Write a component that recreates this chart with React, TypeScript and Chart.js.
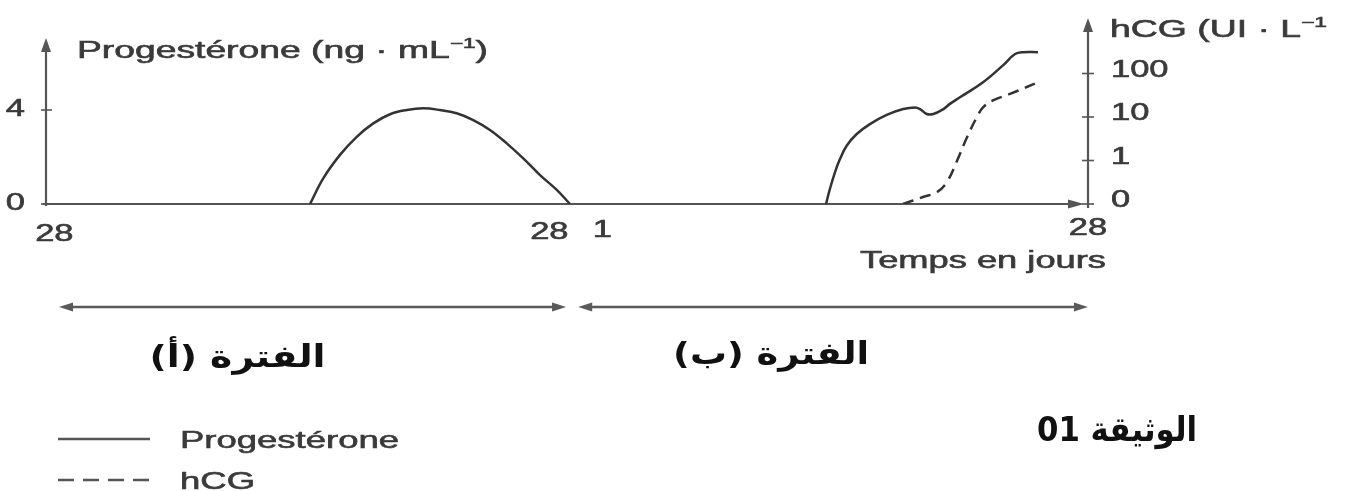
import React, { useEffect, useRef } from 'react';
import { Chart, registerables } from 'chart.js';

Chart.register(...registerables);

// ---------- DATA ----------
// x is a continuous day index: 0..28 = period (A), 28..56 = period (B)
const progDaysA = [14.19, 14.9, 15.8, 16.7, 17.59, 18.49, 19.39, 20.28, 21.17, 22.07, 22.96, 23.86, 24.76, 25.65, 26.55, 27.45, 28.16];
const progValuesA = [0, 1.09, 2.09, 2.86, 3.43, 3.82, 4.0, 4.07, 4.0, 3.86, 3.57, 3.15, 2.58, 1.94, 1.23, 0.6, 0];
const progDaysB = [41.92, 42.13, 42.4, 42.67, 43.03, 43.57, 44.28, 45.18, 46.07, 46.7, 46.97, 47.33, 47.69, 48.23, 48.58, 49.12, 50.36, 51.43, 52.08, 52.51, 53.31];
const progValuesB = [0, 0.64, 1.35, 1.91, 2.48, 2.98, 3.4, 3.79, 4.04, 4.11, 4.04, 3.83, 3.83, 4.04, 4.26, 4.54, 5.18, 5.9, 6.38, 6.46, 6.46];
const hcgDays = [46.06, 47.13, 47.87, 48.41, 48.94, 49.48, 50.02, 50.36, 50.89, 51.81, 52.71, 53.31];
const hcgValues = [0, 0.16, 0.27, 0.5, 0.97, 3.3, 9.8, 16.6, 24, 34, 49, 63]; // UI·L-1

const xTickValues = [0.45, 27.05, 29.9, 56];
const xTickLabels = ['28', '28', '1', '28'];
const progTickValues = [0, 4];
const hcgTickValues = [0, 1, 10, 100];

const progLabel = 'Progestérone';
const hcgLabel = 'hCG';
const periodLabels = ['الفترة (أ)', 'الفترة (ب)'];
const docLabel = 'الوثيقة 01';
const xAxisTitle = 'Temps en jours';

// hCG axis: 0..1 linear, then one step per decade
const toLevel = (v: number) => (v <= 1 ? v : 1 + Math.log10(v));

// ---------- STYLE ----------
const LATIN = '"Liberation Sans", Arial, sans-serif';
const ARABIC = '"DejaVu Sans", sans-serif';
const TEXT = '#3a3a3a';
const AXIS = '#555555';
const CURVE = '#333333';

type Part = { t: string; size: number; dy?: number };

function drawRich(ctx: CanvasRenderingContext2D, parts: Part[], x: number, y: number, opts: { width?: number; sx?: number; align?: 'left' | 'center' | 'right'; baseline?: CanvasTextBaseline }) {
  ctx.save();
  const widths = parts.map((p) => {
    ctx.font = `${p.size}px ${LATIN}`;
    return ctx.measureText(p.t).width;
  });
  const natural = widths.reduce((a, b) => a + b, 0);
  const sx = opts.width ? opts.width / natural : opts.sx || 1;
  const w = natural * sx;
  const align = opts.align || 'left';
  const left = align === 'left' ? x : align === 'right' ? x - w : x - w / 2;
  ctx.translate(left, y);
  ctx.scale(sx, 1);
  ctx.fillStyle = TEXT;
  ctx.strokeStyle = TEXT;
  ctx.lineWidth = 0.6;
  ctx.textAlign = 'left';
  ctx.textBaseline = opts.baseline || 'alphabetic';
  let cx = 0;
  parts.forEach((p, i) => {
    ctx.font = `${p.size}px ${LATIN}`;
    ctx.fillText(p.t, cx, p.dy || 0);
    ctx.strokeText(p.t, cx, p.dy || 0);
    cx += widths[i];
  });
  ctx.restore();
}

function drawArabic(ctx: CanvasRenderingContext2D, text: string, cx: number, cy: number, size: number, width: number) {
  ctx.save();
  ctx.font = `bold ${size}px ${ARABIC}`;
  ctx.direction = 'rtl';
  const natural = ctx.measureText(text).width;
  ctx.translate(cx, cy);
  ctx.scale(width / natural, 1);
  ctx.fillStyle = '#111111';
  ctx.textAlign = 'center';
  ctx.textBaseline = 'middle';
  ctx.fillText(text, 0, 0);
  ctx.restore();
}

function arrowHead(ctx: CanvasRenderingContext2D, tx: number, ty: number, dir: 'up' | 'right' | 'left', len: number, half: number) {
  ctx.beginPath();
  ctx.moveTo(tx, ty);
  if (dir === 'up') {
    ctx.lineTo(tx - half, ty + len);
    ctx.lineTo(tx + half, ty + len);
  } else if (dir === 'right') {
    ctx.lineTo(tx - len, ty - half);
    ctx.lineTo(tx - len, ty + half);
  } else {
    ctx.lineTo(tx + len, ty - half);
    ctx.lineTo(tx + len, ty + half);
  }
  ctx.closePath();
  ctx.fill();
}

function line(ctx: CanvasRenderingContext2D, x1: number, y1: number, x2: number, y2: number) {
  ctx.beginPath();
  ctx.moveTo(x1, y1);
  ctx.lineTo(x2, y2);
  ctx.stroke();
}

const decor = {
  id: 'decor',
  beforeDatasetsDraw(chart: any) {
    const ctx: CanvasRenderingContext2D = chart.ctx;
    const xs = chart.scales.x;
    const ys = chart.scales.y;
    const y2 = chart.scales.y2;
    const x0 = xs.getPixelForValue(0);
    const x1 = xs.getPixelForValue(56);
    const base = ys.getPixelForValue(0);
    ctx.save();
    ctx.strokeStyle = AXIS;
    ctx.fillStyle = AXIS;
    ctx.lineWidth = 2.2;
    // left axis
    line(ctx, x0, base + 2, x0, 46);
    arrowHead(ctx, x0, 38, 'up', 14, 5);
    // right axis
    line(ctx, x1, base + 4, x1, 26);
    arrowHead(ctx, x1, 18, 'up', 14, 5);
    // x axis
    line(ctx, x0 - 3, base, x1 - 12, base);
    arrowHead(ctx, x1 - 4, base, 'right', 16, 4.5);
    // tick crosses
    ctx.lineWidth = 1.6;
    progTickValues.forEach((v) => {
      const py = ys.getPixelForValue(v);
      line(ctx, x0 - 5, py, x0 + 6, py);
    });
    hcgTickValues.forEach((v) => {
      const py = y2.getPixelForValue(toLevel(v));
      line(ctx, x1 - 6, py, x1 + 6, py);
    });
    ctx.restore();
  },
  afterDraw(chart: any) {
    const ctx: CanvasRenderingContext2D = chart.ctx;
    const xs = chart.scales.x;
    const ys = chart.scales.y;
    const y2 = chart.scales.y2;
    const x0 = xs.getPixelForValue(0);
    const x1 = xs.getPixelForValue(56);
    const base = ys.getPixelForValue(0);
    const SX = 1.5;

    // tick labels
    progTickValues.forEach((v) => {
      drawRich(ctx, [{ t: String(v), size: 23 }], x0 - 21, ys.getPixelForValue(v), { sx: SX, align: 'right', baseline: 'middle' });
    });
    hcgTickValues.forEach((v) => {
      drawRich(ctx, [{ t: String(v), size: 23 }], x1 + 23, y2.getPixelForValue(toLevel(v)) - 3, { sx: SX, align: 'left', baseline: 'middle' });
    });
    xTickValues.forEach((v, i) => {
      drawRich(ctx, [{ t: xTickLabels[i], size: 23 }], xs.getPixelForValue(v), base + 37 - i * 2, { sx: SX, align: 'center' });
    });

    // axis titles
    drawRich(
      ctx,
      [
        { t: 'Progestérone (ng · mL', size: 23 },
        { t: '−1', size: 14, dy: -10 },
        { t: ')', size: 23 },
      ],
      77, 58, { width: 411 }
    );
    drawRich(
      ctx,
      [
        { t: 'hCG (UI · L', size: 23 },
        { t: '−1', size: 14, dy: -10 },
      ],
      x1 + 22, 37, { width: 217 }
    );
    drawRich(ctx, [{ t: xAxisTitle, size: 23 }], x1 + 18, 268, { width: 246, align: 'right' });

    // period arrows
    ctx.save();
    ctx.strokeStyle = '#5a5a5a';
    ctx.fillStyle = '#5a5a5a';
    ctx.lineWidth = 2.5;
    const ay = 307;
    const segs = [
      [xs.getPixelForValue(0.7), xs.getPixelForValue(27.95)],
      [xs.getPixelForValue(28.6), x1],
    ];
    segs.forEach(([a, b]) => {
      line(ctx, a + 8, ay, b - 8, ay);
      arrowHead(ctx, a, ay, 'left', 14, 4.5);
      arrowHead(ctx, b, ay, 'right', 14, 4.5);
    });
    ctx.restore();

    // period labels
    drawArabic(ctx, periodLabels[0], (segs[0][0] + segs[0][1]) / 2 - 75, 359, 31, 176);
    drawArabic(ctx, periodLabels[1], (segs[1][0] + segs[1][1]) / 2 - 62, 356, 31, 196);
    drawArabic(ctx, docLabel, 1117, 432, 34, 160);

    // legend
    const ds = chart.data.datasets;
    const rows = [439, 480];
    ds.forEach((d: any, i: number) => {
      ctx.save();
      ctx.strokeStyle = '#555555';
      ctx.lineWidth = 2.5;
      ctx.setLineDash(d.borderDash ? [16, 9] : []);
      line(ctx, 58, rows[i], 150, rows[i]);
      ctx.restore();
      drawRich(ctx, [{ t: d.label, size: 24 }], 180, rows[i] + 9, { sx: 1.52 });
    });
  },
};

export default function App() {
  const ref = useRef<HTMLCanvasElement>(null);
  useEffect(() => {
    const progData: any[] = [
      ...progDaysA.map((d, i) => ({ x: d, y: progValuesA[i] })),
      { x: 35, y: null },
      ...progDaysB.map((d, i) => ({ x: d, y: progValuesB[i] })),
    ];
    const hcgData = hcgDays.map((d, i) => ({ x: d, y: toLevel(hcgValues[i]) }));
    const chart = new Chart(ref.current as HTMLCanvasElement, {
      type: 'line',
      data: {
        datasets: [
          {
            label: progLabel,
            data: progData,
            yAxisID: 'y',
            borderColor: CURVE,
            borderWidth: 2.5,
            pointRadius: 0,
            tension: 0.4,
            spanGaps: false,
          },
          {
            label: hcgLabel,
            data: hcgData,
            yAxisID: 'y2',
            borderColor: CURVE,
            borderWidth: 2.5,
            borderDash: [11, 7],
            pointRadius: 0,
            tension: 0.4,
          },
        ],
      },
      options: {
        responsive: false,
        animation: false,
        events: [],
        layout: { padding: { top: 18, left: 0, right: 0, bottom: 0 } },
        plugins: { legend: { display: false }, tooltip: { enabled: false } },
        scales: {
          x: {
            type: 'linear',
            min: 0,
            max: 56,
            ticks: { display: false },
            grid: { display: false, drawTicks: false },
            border: { display: false },
            afterFit: (s: any) => {
              s.height = 491 - 204;
            },
          },
          y: {
            type: 'linear',
            position: 'left',
            min: 0,
            max: 7.915,
            ticks: { display: false },
            grid: { display: false, drawTicks: false },
            border: { display: false },
            afterFit: (s: any) => {
              s.width = 46;
            },
          },
          y2: {
            type: 'linear',
            position: 'right',
            min: 0,
            max: 4.276,
            ticks: { display: false },
            grid: { display: false, drawTicks: false },
            border: { display: false },
            afterFit: (s: any) => {
              s.width = 1368 - 1088;
            },
          },
        },
      } as any,
      plugins: [decor],
    });
    return () => chart.destroy();
  }, []);
  return (
    <div style={{ position: 'fixed', left: 0, top: 0, width: 1368, height: 491, background: '#ffffff' }}>
      <canvas ref={ref} width={1368} height={491} />
    </div>
  );
}
